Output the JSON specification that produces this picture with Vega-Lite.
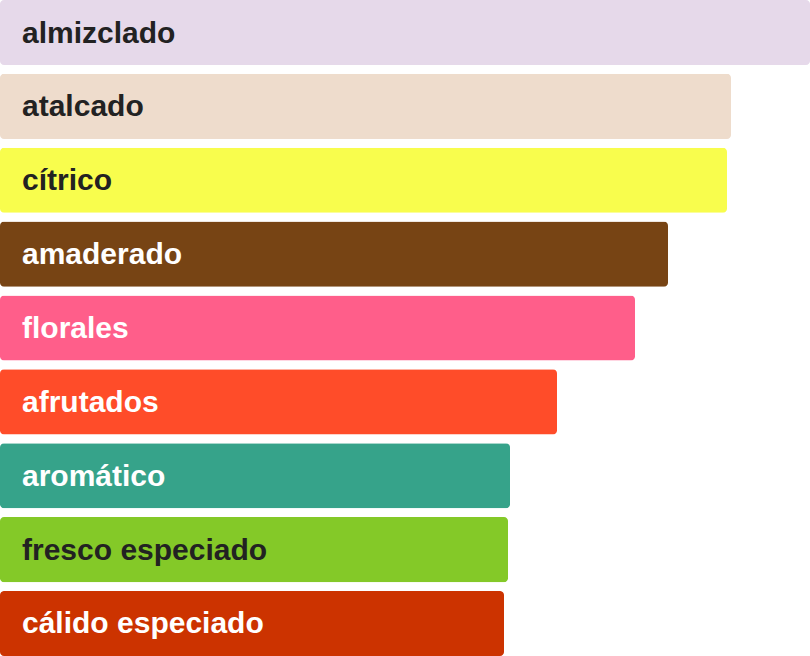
{
  "$schema": "https://vega.github.io/schema/vega-lite/v6.json",
  "width": 810,
  "height": 656,
  "padding": 0,
  "autosize": {"type": "none"},
  "background": "white",
  "config": {"view": {"stroke": null}},
  "data": {
    "values": [
      {"nota": "almizclado", "valor": 810},
      {"nota": "atalcado", "valor": 731},
      {"nota": "cítrico", "valor": 727},
      {"nota": "amaderado", "valor": 668},
      {"nota": "florales", "valor": 635},
      {"nota": "afrutados", "valor": 557},
      {"nota": "aromático", "valor": 510},
      {"nota": "fresco especiado", "valor": 508},
      {"nota": "cálido especiado", "valor": 504}
    ]
  },
  "encoding": {
    "y": {
      "field": "nota",
      "type": "nominal",
      "sort": null,
      "axis": null,
      "scale": {"paddingInner": 0.12, "paddingOuter": 0}
    }
  },
  "layer": [
    {
      "mark": {"type": "bar", "cornerRadius": 4},
      "encoding": {
        "x": {
          "field": "valor",
          "type": "quantitative",
          "axis": null,
          "scale": {"domain": [0, 810], "nice": false}
        },
        "color": {
          "field": "nota",
          "type": "nominal",
          "legend": null,
          "scale": {
            "domain": ["almizclado", "atalcado", "cítrico", "amaderado", "florales", "afrutados", "aromático", "fresco especiado", "cálido especiado"],
            "range": ["#e6d9ea", "#eedccc", "#f8fd4d", "#774414", "#ff5e8a", "#ff4c29", "#36a38a", "#84c928", "#cc3300"]
          }
        }
      }
    },
    {
      "mark": {
        "type": "text",
        "align": "left",
        "baseline": "middle",
        "dx": 22,
        "dy": 1,
        "font": "Liberation Sans",
        "fontSize": 30,
        "fontWeight": "bold"
      },
      "encoding": {
        "x": {"datum": 0, "type": "quantitative"},
        "text": {"field": "nota"},
        "color": {
          "condition": {
            "test": "indexof(['almizclado','atalcado','cítrico','fresco especiado'], datum.nota) >= 0",
            "value": "#222222"
          },
          "value": "#ffffff"
        }
      }
    }
  ]
}
